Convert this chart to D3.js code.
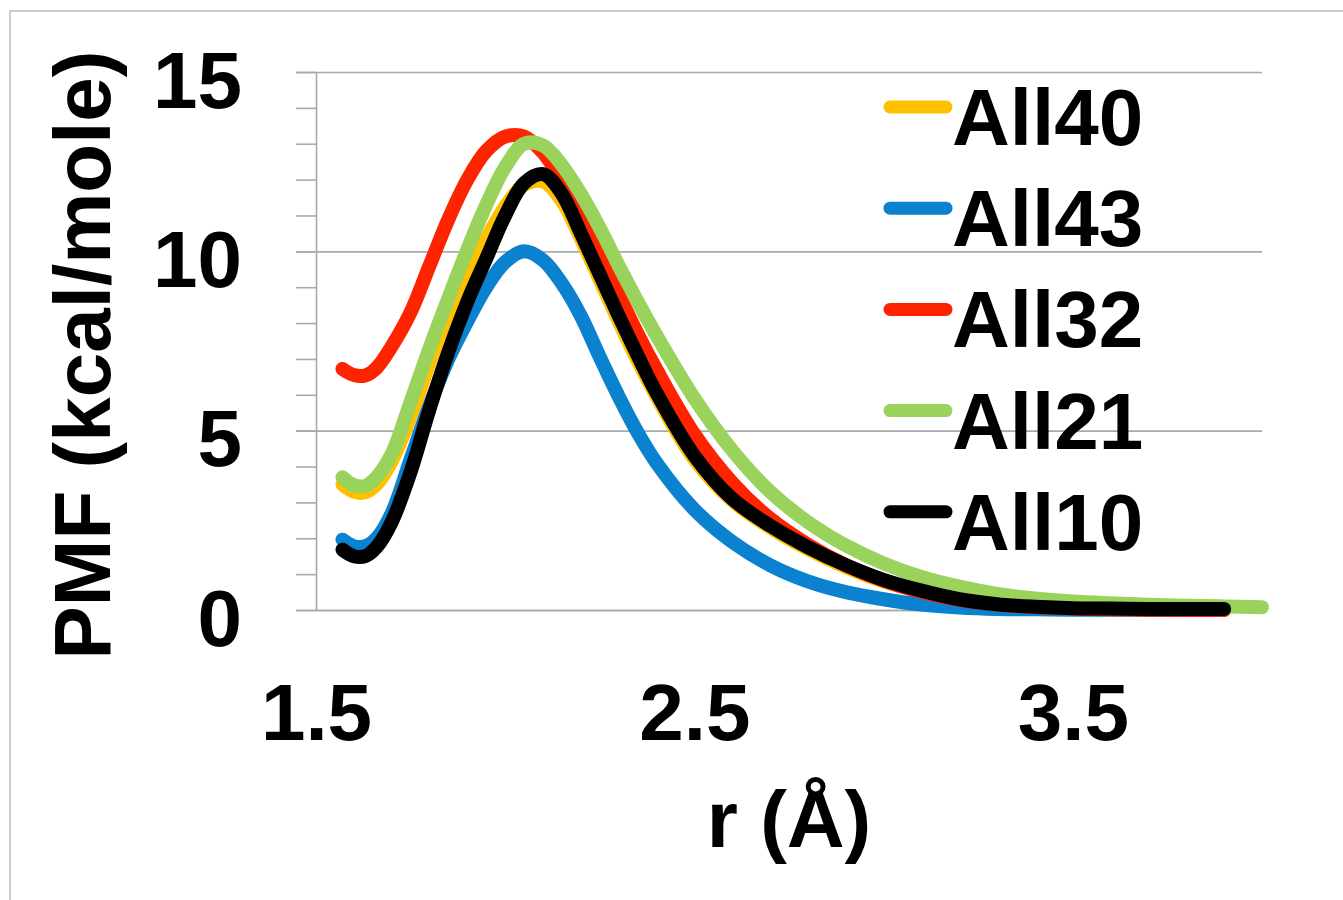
<!DOCTYPE html>
<html><head><meta charset="utf-8">
<script src="https://cdn.jsdelivr.net/npm/d3@7"></script>
<style>
body{margin:0;background:#fff}
text{font-family:"Liberation Sans",Arial,sans-serif;font-weight:bold;fill:#000}
</style>
</head><body>
<svg id="chart" width="1343" height="900"></svg>
<script>
// ---- data ----
const rValues = [1.57,1.6,1.63,1.66,1.7,1.75,1.8,1.85,1.9,1.95,2.0,2.05,2.1,2.15,2.2,2.25,2.3,2.35,2.4,2.5,2.6,2.7,2.8,2.9,3.0,3.1,3.2,3.3,3.4,3.5,3.6,3.7,3.8,3.9,4.0];
const all40 = [3.5,3.3,3.28,3.5,4.15,5.4,6.9,8.3,9.4,10.35,11.25,11.85,11.95,11.4,10.35,9.2,8.05,6.95,5.95,4.2,3.05,2.3,1.7,1.2,0.8,0.52,0.3,0.16,0.09,0.05,0.04,0.03,0.03,0.03,null];
const all43 = [1.96,1.78,1.78,2.0,2.7,4.2,5.7,7.0,8.05,9.0,9.7,10.0,9.75,9.1,8.2,7.05,5.95,4.95,4.1,2.8,1.9,1.25,0.8,0.5,0.3,0.15,0.07,0.03,0.02,0.01,0.01,0.0,0.0,0.0,null];
const all32 = [6.72,6.55,6.54,6.75,7.35,8.3,9.6,10.9,12.0,12.8,13.2,13.2,12.75,11.95,11.0,9.9,8.8,7.7,6.7,4.9,3.55,2.55,1.82,1.25,0.82,0.5,0.28,0.15,0.08,0.04,0.02,0.01,0.0,0.0,null];
const all21 = [3.7,3.48,3.46,3.7,4.35,5.8,7.3,8.7,10.05,11.3,12.35,13.0,12.95,12.4,11.6,10.65,9.6,8.6,7.65,5.9,4.45,3.3,2.45,1.8,1.3,0.92,0.65,0.45,0.32,0.24,0.19,0.15,0.12,0.1,0.08];
const all10 = [1.68,1.5,1.5,1.75,2.45,3.85,5.6,7.2,8.6,9.8,11.0,11.9,12.15,11.6,10.5,9.35,8.2,7.1,6.05,4.3,3.1,2.35,1.75,1.25,0.84,0.54,0.3,0.16,0.09,0.05,0.04,0.03,0.03,0.03,null];
const seriesNames = ["All40","All43","All32","All21","All10"];
const seriesColors = ["#FFC000","#0A82CF","#FF2400","#9AD35C","#000000"];
const yMajorTicks = [0,5,10,15];
const yMinorTicks = d3.range(0,16,1);
const xTickValues = [1.5,2.5,3.5];
const xTickLabels = ["1.5","2.5","3.5"];
const xTitle = "r (Å)";
const yTitle = "PMF (kcal/mole)";

const seriesValues = [all40,all43,all32,all21,all10];

// ---- layout ----
const svg = d3.select("#chart");
const plotLeft = 316, plotRight = 1262, plotTop = 72, plotBottom = 610;
const x = d3.scaleLinear().domain([1.5,4.0]).range([plotLeft,plotRight]);
const y = d3.scaleLinear().domain([0,15]).range([plotBottom,plotTop]);
const gridColor = "#a9a9a9";

// outer frame
svg.append("rect").attr("x",10).attr("y",11).attr("width",1400).attr("height",1000)
  .attr("fill","none").attr("stroke","#bdbdbd").attr("stroke-width",1.5);

// gridlines (major)
const grid = svg.append("g").attr("transform",`translate(${plotLeft-20},0)`)
  .call(d3.axisRight(y).tickValues(yMajorTicks).tickSize(plotRight-plotLeft+20).tickFormat(""));
grid.select(".domain").remove();
grid.selectAll("line").attr("stroke",gridColor).attr("stroke-width",1.6);

// y axis with minor ticks
const yAxMinor = svg.append("g").attr("transform",`translate(${plotLeft},0)`)
  .call(d3.axisLeft(y).tickValues(yMinorTicks).tickSize(20).tickSizeOuter(0).tickFormat(""));
yAxMinor.select(".domain").attr("stroke",gridColor).attr("stroke-width",1.6);
yAxMinor.selectAll("line").attr("stroke",gridColor).attr("stroke-width",1.6);

// y labels
const yAx = svg.append("g").attr("transform",`translate(${plotLeft},0)`)
  .call(d3.axisLeft(y).tickValues(yMajorTicks).tickSize(20).tickPadding(54).tickFormat(d3.format("d")));
yAx.select(".domain").remove();
yAx.selectAll("line").remove();
yAx.selectAll("text").attr("font-size",80).attr("dy","0.44em")
  .style("font-family","'Liberation Sans',Arial,sans-serif").style("font-weight","bold").attr("fill","#000");

// x axis
const xAx = svg.append("g").attr("transform",`translate(0,${plotBottom})`)
  .call(d3.axisBottom(x).tickValues(xTickValues).tickSize(0).tickSizeOuter(0).tickPadding(73)
    .tickFormat((d,i)=>xTickLabels[i]));
xAx.select(".domain").attr("stroke",gridColor).attr("stroke-width",1.6);
xAx.selectAll("text").attr("font-size",80)
  .style("font-family","'Liberation Sans',Arial,sans-serif").style("font-weight","bold").attr("fill","#000");

// titles
svg.append("text").attr("x",(plotLeft+plotRight)/2).attr("y",847).attr("text-anchor","middle")
  .attr("font-size",80).text(xTitle);
svg.append("text").attr("transform","translate(110,355) rotate(-90)").attr("text-anchor","middle")
  .attr("font-size",80).text(yTitle);

// series
const line = d3.line()
  .defined(d=>d[1]!==null)
  .x(d=>x(d[0])).y(d=>y(d[1]))
  .curve(d3.curveCatmullRom.alpha(0.5));
seriesValues.forEach((vals,i)=>{
  const pts = rValues.map((r,j)=>[r,vals[j]]);
  svg.append("path").datum(pts).attr("d",line)
    .attr("fill","none").attr("stroke",seriesColors[i]).attr("stroke-width",14)
    .attr("stroke-linecap","round").attr("stroke-linejoin","round");
});

// legend
const legY0 = 107, legStep = 101.2;
seriesNames.forEach((name,i)=>{
  const ly = legY0 + i*legStep;
  svg.append("line").attr("x1",890).attr("x2",946).attr("y1",ly).attr("y2",ly)
    .attr("stroke",seriesColors[i]).attr("stroke-width",13).attr("stroke-linecap","round");
  svg.append("text").attr("x",952).attr("y",ly+38).attr("font-size",80).text(name);
});
</script>
</body></html>
